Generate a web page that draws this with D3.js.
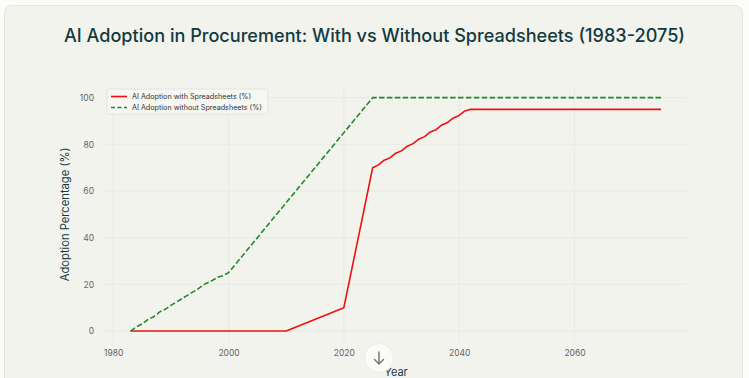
<!DOCTYPE html>
<html>
<head>
<meta charset="utf-8">
<script src="https://cdn.jsdelivr.net/npm/d3@7"></script>
<style>
  html, body { margin: 0; padding: 0; background: #fcfcf9; }
  svg { display: block; }
</style>
</head>
<body>
<svg id="chart" width="749" height="378"></svg>
<script>
// ---- data ----
const chartTitle = "AI Adoption in Procurement: With vs Without Spreadsheets (1983-2075)";
const xTitle = "Year";
const yTitle = "Adoption Percentage (%)";
const seriesNames = ["AI Adoption with Spreadsheets (%)", "AI Adoption without Spreadsheets (%)"];

const withYears  = [1983, 2010, 2020, 2025, 2026, 2027, 2028, 2029, 2030, 2031, 2032, 2033, 2034, 2035, 2036, 2037, 2038, 2039, 2040, 2041, 2042, 2075];
const withValues = [0,    0,    10,   70,   71.2, 73.2, 74.2, 76.2, 77.2, 79.2, 80.3, 82.2, 83.3, 85.3, 86.3, 88.3, 89.4, 91.3, 92.4, 94.3, 95,   95];

const withoutYears  = [1983, 1984, 1985, 1986, 1987, 1988, 1989, 1990, 1991, 1992, 1993, 1994, 1995, 1996, 1997, 1998, 1999, 2000, 2025, 2075];
const withoutValues = [0,    1.8,  3.0,  4.9,  6.1,  8.1,  9.3,  11.0, 12.5, 14.0, 15.5, 17.0, 18.6, 20.3, 21.4, 22.9, 23.7, 25,   100,  100];

const xTicks = [1980, 2000, 2020, 2040, 2060];
const yTicks = [0, 20, 40, 60, 80, 100];

// ---- layout ----
const svg = d3.select("#chart");
const W = 749, H = 378;
const plot = { left: 104, right: 687.5, top: 86, bottom: 342.7 };
const FONT = "Inter, 'Liberation Sans', sans-serif";

// card
svg.append("rect").attr("x", 4.5).attr("y", 5.5).attr("width", 738).attr("height", 390)
  .attr("rx", 7).attr("fill", "#f3f3ee").attr("stroke", "#e6e6e0").attr("stroke-width", 1);

const xExt = [1983, 2075], xPad = (xExt[1] - xExt[0]) * 0.05;
const x = d3.scaleLinear().domain([xExt[0] - xPad, xExt[1] + xPad]).range([plot.left, plot.right]);
const y = d3.scaleLinear().domain([-5, 105]).range([plot.bottom, plot.top]);

// grid
const g = svg.append("g");
g.selectAll(".vg").data(xTicks).join("line")
  .attr("x1", d => x(d)).attr("x2", d => x(d))
  .attr("y1", plot.top).attr("y2", plot.bottom)
  .attr("stroke", "#e7e7e2").attr("stroke-width", 0.8);
g.selectAll(".hg").data(yTicks).join("line")
  .attr("x1", plot.left).attr("x2", plot.right)
  .attr("y1", d => y(d)).attr("y2", d => y(d))
  .attr("stroke", "#e7e7e2").attr("stroke-width", 0.8);

// axes (labels only)
const xAxis = d3.axisBottom(x).tickValues(xTicks).tickFormat(d3.format("d")).tickSize(0).tickPadding(7);
const yAxis = d3.axisLeft(y).tickValues(yTicks).tickFormat(d3.format("d")).tickSize(0).tickPadding(7);
const xa = svg.append("g").attr("transform", `translate(0,${plot.bottom})`).call(xAxis);
const ya = svg.append("g").attr("transform", `translate(${plot.left},0)`).call(yAxis);
[xa, ya].forEach(a => {
  a.select(".domain").remove();
  a.selectAll("text").attr("fill", "#5f6468").attr("font-family", FONT).attr("font-size", 8.5);
});
ya.selectAll("text").attr("dx", -3);

// lines
const line = d3.line().x(d => x(d[0])).y(d => y(d[1]));
const withData = withYears.map((yr, i) => [yr, withValues[i]]);
const withoutData = withoutYears.map((yr, i) => [yr, withoutValues[i]]);

svg.append("path").datum(withData).attr("d", line)
  .attr("fill", "none").attr("stroke", "#f01010").attr("stroke-width", 1.6).attr("stroke-linejoin", "round");
svg.append("path").datum(withoutData).attr("d", line)
  .attr("fill", "none").attr("stroke", "#1f8a2c").attr("stroke-width", 1.6)
  .attr("stroke-dasharray", "5.5,2.4");

// titles
svg.append("text").attr("x", 374.5).attr("y", 42).attr("text-anchor", "middle")
  .attr("font-family", FONT).attr("font-size", 18.1).attr("font-weight", 500)
  .attr("fill", "#133a3e").text(chartTitle);
svg.append("text").attr("x", 396).attr("y", 376).attr("text-anchor", "middle")
  .attr("font-family", FONT).attr("font-size", 11)
  .attr("fill", "#163a3e").text(xTitle);
svg.append("text").attr("transform", `translate(69,${(plot.top + plot.bottom) / 2}) rotate(-90)`)
  .attr("text-anchor", "middle")
  .attr("font-family", FONT).attr("font-size", 11.2)
  .attr("fill", "#163a3e").text(yTitle);

// legend
const lg = svg.append("g").attr("transform", "translate(107,89)");
lg.append("rect").attr("width", 161).attr("height", 25).attr("rx", 2)
  .attr("fill", "#f6f6f2").attr("stroke", "#dedede").attr("stroke-width", 0.8);
const items = [
  { name: seriesNames[0], color: "#f01010", dash: null },
  { name: seriesNames[1], color: "#1f8a2c", dash: "4,2.5" }
];
items.forEach((it, i) => {
  const yy = 7.5 + i * 11;
  lg.append("line").attr("x1", 4).attr("x2", 20).attr("y1", yy).attr("y2", yy)
    .attr("stroke", it.color).attr("stroke-width", 1.6).attr("stroke-dasharray", it.dash);
  lg.append("text").attr("x", 25).attr("y", yy + 2.6)
    .attr("font-family", FONT).attr("font-size", 7.2)
    .attr("fill", "#333").text(it.name);
});

// scroll button overlay
const btn = svg.append("g").attr("transform", "translate(379,358)");
btn.append("circle").attr("r", 14.5).attr("fill", "#fbfbf8").attr("stroke", "#ecece7");
btn.append("path").attr("d", "M0,-6 L0,6 M-4.5,1.5 L0,6 L4.5,1.5")
  .attr("fill", "none").attr("stroke", "#777").attr("stroke-width", 1.5).attr("stroke-linecap", "round");
</script>
</body>
</html>
